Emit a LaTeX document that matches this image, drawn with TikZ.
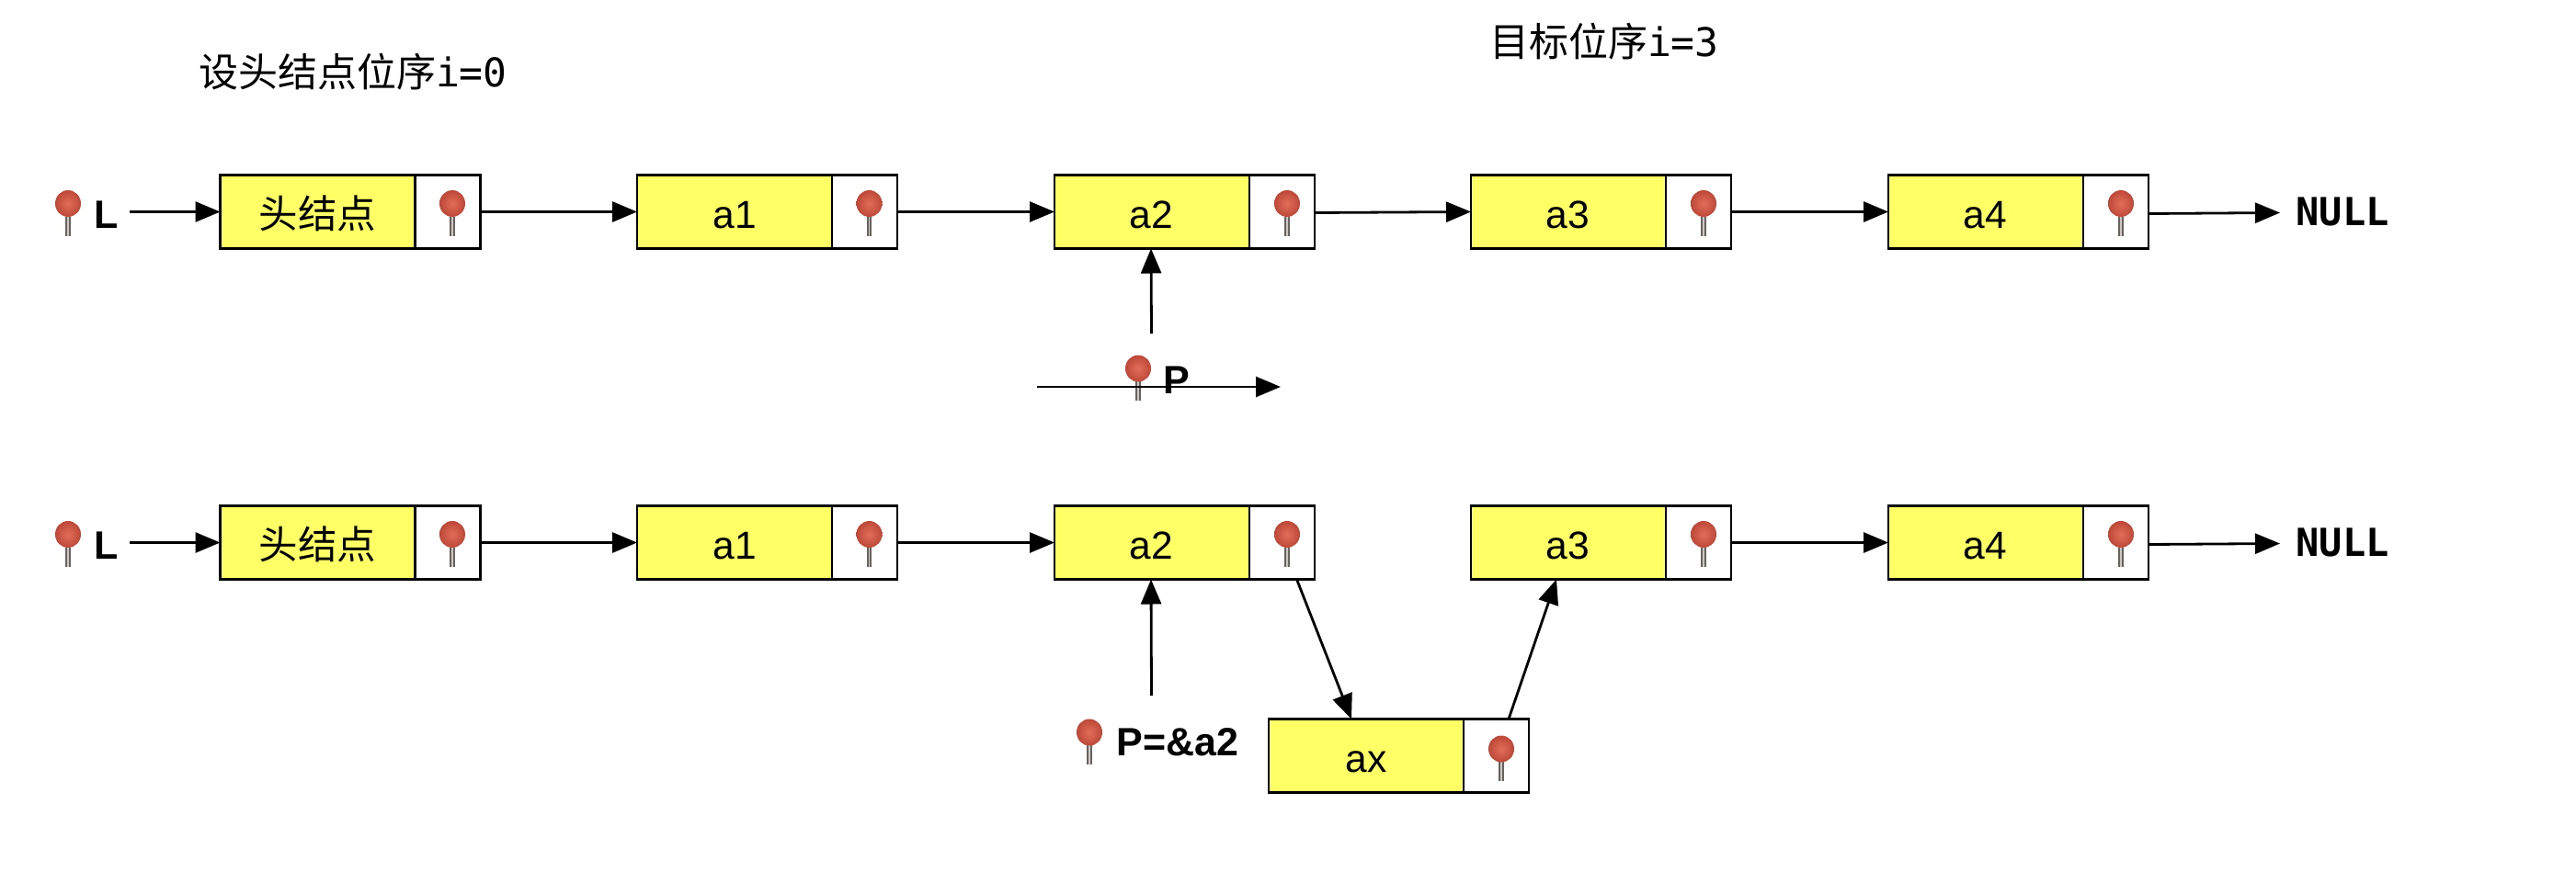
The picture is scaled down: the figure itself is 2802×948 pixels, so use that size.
\documentclass[tikz,border=0pt]{standalone}
\usepackage{fontspec}
\setmainfont{Liberation Sans}
\newfontfamily\cjkf{Noto Sans CJK SC}
\newfontfamily\monof{DejaVu Sans Mono}
\usetikzlibrary{arrows.meta,calc}
\definecolor{cellyellow}{RGB}{255,255,102}
\definecolor{pinouter}{RGB}{190,72,56}
\definecolor{pininner}{RGB}{226,110,88}
\definecolor{stemgray}{RGB}{105,98,92}
\tikzset{
  x=1pt,y=-1pt,
  data/.style={draw=black,line width=2.8pt,fill=cellyellow,minimum width=212pt,minimum height=80pt,inner sep=0pt,outer sep=0pt,anchor=west,font=\fontsize{42.5}{50}\selectfont},
  celltext/.style={inner sep=0pt,outer sep=0pt,font=\fontsize{42.5}{50}\selectfont},
  ptr/.style={draw=black,line width=2.8pt,fill=white,minimum width=71pt,minimum height=80pt,inner sep=0pt,outer sep=0pt,anchor=west},
  lab/.style={inner sep=0pt,outer sep=0pt,font=\fontsize{43}{50}\selectfont\bfseries},
  mono/.style={inner sep=0pt,outer sep=0pt,font=\fontsize{42}{50}\selectfont\monof\bfseries},
  title/.style={inner sep=0pt,outer sep=0pt,anchor=base west,font=\fontsize{43}{50}\selectfont},
  arr/.style={-{Triangle[length=27pt,width=22pt]},line width=2.8pt,black},
  pinmark/.pic={
    \fill[stemgray] (-2.8,14) rectangle (2.8,35);
    \fill[white!65!stemgray] (-1,14) rectangle (0.8,35);
    \shade[inner color=pininner,outer color=pinouter] (0,0) ellipse (14 and 14.5);
  }
}
\newcommand{\rowcells}[2]{% prefix, y
  \node[data] (#1h)  at (239.5,#2) {};
  \node[celltext] (#1ht) at (345.5,{#2+1.5}) {\cjkf 头结点};
  \node[ptr]  (#1hp) at (451.5,#2) {};
  \node[data] (#1a)  at (693,#2) {};
  \node[celltext] (#1at) at (799,{#2+3.5}) {a1};
  \node[ptr]  (#1ap) at (905,#2) {};
  \node[data] (#1b)  at (1147,#2) {};
  \node[celltext] (#1bt) at (1252.5,{#2+3.5}) {a2};
  \node[ptr]  (#1bp) at (1359,#2) {};
  \node[data] (#1c)  at (1600,#2) {};
  \node[celltext] (#1ct) at (1705.5,{#2+3.5}) {a3};
  \node[ptr]  (#1cp) at (1812,#2) {};
  \node[data] (#1d)  at (2054,#2) {};
  \node[celltext] (#1dt) at (2159,{#2+3.5}) {a4};
  \node[ptr]  (#1dp) at (2266,#2) {};
  \pic at (74,{#2-9}) {pinmark};
  \pic at (492,{#2-9}) {pinmark};
  \pic at (945.5,{#2-9}) {pinmark};
  \pic at (1400,{#2-9}) {pinmark};
  \pic at (1853,{#2-9}) {pinmark};
  \pic at (2307,{#2-9}) {pinmark};
  \node[lab]  (#1L) at (116,{#2+3}) {L};
  \node[mono] (#1N) at (2548,{#2}) {NULL};
  \coordinate (#1Ls) at (141,{#2});
  \coordinate (#1Ne) at (2480,{#2+1});
  \draw[arr] (#1Ls) -- (#1h.west);
  \draw[arr] (#1hp.east) -- (#1a.west);
  \draw[arr] (#1ap.east) -- (#1b.west);
  \draw[arr] ([yshift=-2pt]#1dp.east) -- (#1Ne);
}
\begin{document}
\begin{tikzpicture}
\useasboundingbox[fill=white] (0,0) rectangle (2802,948);
\rowcells{u}{230.5}
\rowcells{v}{590.5}
\draw[arr] ([yshift=-1pt]ubp.east) -- (uc.west);
\draw[arr] (ucp.east) -- (ud.west);
\draw[arr] (vcp.east) -- (vd.west);
% titles
\node[title] (t1) at (216,94) {{\cjkf 设头结点位序}{\monof i=0}};
\node[title] (t2) at (1620,61) {{\cjkf 目标位序}{\monof i=3}};
% upper P
\pic at (1238,401) {pinmark};
\node[lab] (pu) at (1280,414) {P};
\coordinate (pus) at (1252.5,363);
\coordinate (hs) at (1128,421);
\coordinate (he) at (1393,421);
\draw[arr] (pus) -- ([xshift=-1pt]ub.south);
\draw[arr] (hs) -- (he);
% lower P
\pic at (1185,797) {pinmark};
\node[lab] (pv) at (1281,808) {P=\&a2};
\coordinate (pvs) at (1252.5,757);
\draw[arr] (pvs) -- ([xshift=-1pt]vb.south);
% inserted node
\node[data] (x) at (1380,822.5) {};
\node[celltext] (xt) at (1486,829) {ax};
\node[ptr]  (xp) at (1592,822.5) {};
\pic at (1633,815) {pinmark};
\draw[arr] ([xshift=16pt]vbp.south) -- ([xshift=-16pt]x.north);
\draw[arr] ([xshift=13.5pt]xp.north) -- ([xshift=-13pt]vc.south);
\end{tikzpicture}
\end{document}
